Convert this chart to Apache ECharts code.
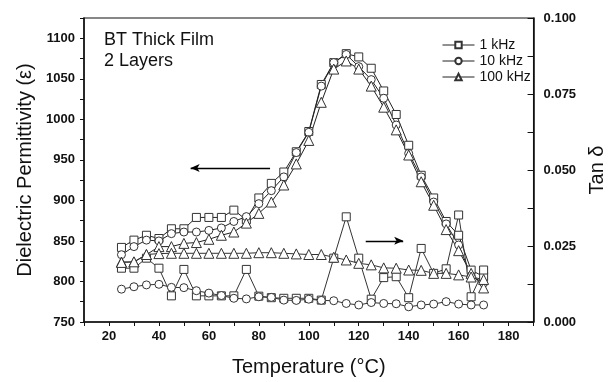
<!DOCTYPE html>
<html>
<head>
<meta charset="utf-8">
<script src="https://cdn.jsdelivr.net/npm/echarts@6/dist/echarts.min.js"></script>
<style>
html, body { margin: 0; padding: 0; background: #fff; }
#main { width: 615px; height: 382px; }
</style>
</head>
<body>
<div id="main"></div>
<script>
// temperature (°C)
var temps = [25, 30, 35, 40, 45, 50, 55, 60, 65, 70, 75, 80, 85, 90, 95,
             100, 105, 110, 115, 120, 125, 130, 135, 140, 145, 150, 155, 160, 165, 170];

// dielectric permittivity
var perm1k   = [842, 851, 857, 853, 865, 865, 879, 879, 879, 888, 876, 903, 921, 935, 960,
                985, 1043, 1070, 1081, 1077, 1063, 1035, 1006, 968, 931, 903, 874, 857, 814, 806];
var perm10k  = [833, 843, 851, 850, 859, 861, 861, 863, 866, 874, 880, 896, 912, 929, 959,
                984, 1041, 1070, 1080, 1065, 1049, 1026, 993, 958, 929, 898, 871, 845, 807, 798];
var perm100k = [824, 824, 833, 843, 843, 847, 848, 852, 857, 861, 872, 884, 898, 919, 945,
                974, 1021, 1062, 1072, 1062, 1041, 1015, 987, 956, 923, 894, 864, 838, 810, 792];

// tan delta
var tan1k   = [0.0177, 0.0177, 0.0210, 0.0177, 0.0086, 0.0173, 0.0086, 0.0086, 0.0086, 0.0086,
               0.0173, 0.0085, 0.0080, 0.0078, 0.0078, 0.0078, 0.0072, 0.0210, 0.0346, 0.0210,
               0.0075, 0.0146, 0.0149, 0.0080, 0.0242, 0.0160, 0.0175, 0.0352, 0.0083, 0.0171];
var tan10k  = [0.0108, 0.0116, 0.0122, 0.0124, 0.0114, 0.0113, 0.0103, 0.0095, 0.0087, 0.0078,
               0.0076, 0.0083, 0.0081, 0.0072, 0.0071, 0.0075, 0.0071, 0.0070, 0.0061, 0.0056,
               0.0064, 0.0061, 0.0060, 0.0050, 0.0056, 0.0059, 0.0067, 0.0059, 0.0056, 0.0056];
var tan100k = [0.0196, 0.0198, 0.0222, 0.0225, 0.0226, 0.0226, 0.0226, 0.0226, 0.0226, 0.0226,
               0.0226, 0.0228, 0.0228, 0.0226, 0.0224, 0.0222, 0.0222, 0.0213, 0.0204, 0.0193,
               0.0188, 0.0178, 0.0177, 0.0171, 0.0170, 0.0160, 0.0160, 0.0155, 0.0148, 0.0140];

var names = ['1 kHz', '10 kHz', '100 kHz'];

function pairs(ys) {
    return temps.map(function (t, i) { return [t, ys[i]]; });
}

var font = 'Liberation Sans, Arial, sans-serif';

function makeSeries(name, ys, symbol, size, yIdx, lineColor) {
    return {
        name: name,
        type: 'line',
        yAxisIndex: yIdx,
        data: pairs(ys),
        symbol: symbol,
        symbolSize: size,
        showAllSymbol: true,
        lineStyle: { color: lineColor, width: 1 },
        itemStyle: { color: '#fff', borderColor: '#333', borderWidth: 1 }
    };
}

var series = [
    makeSeries(names[0], perm1k, 'rect', 8, 0, '#222'),
    makeSeries(names[1], perm10k, 'circle', 8, 0, '#222'),
    makeSeries(names[2], perm100k, 'triangle', 10, 0, '#222'),
    makeSeries('tan 1 kHz', tan1k, 'rect', 8, 1, '#333'),
    makeSeries('tan 10 kHz', tan10k, 'circle', 8, 1, '#333'),
    makeSeries('tan 100 kHz', tan100k, 'triangle', 10, 1, '#333')
];

var arrowStyle = {
    silent: true,
    symbol: ['none', 'arrow'],
    symbolSize: [6, 9],
    label: { show: false },
    lineStyle: { color: '#000', width: 1.3, type: 'solid' }
};
series[0].markLine = Object.assign({ data: [[{ coord: [84.5, 940] }, { coord: [52.7, 940] }]] }, arrowStyle);
series[3].markLine = Object.assign({ data: [[{ coord: [122.8, 0.0267] }, { coord: [137.8, 0.0267] }]] }, arrowStyle);

var axisLine = { show: true, lineStyle: { color: '#111', width: 1.5 } };

var option = {
    animation: false,
    backgroundColor: '#fff',
    grid: {
        left: 84, right: 72, top: 18, bottom: 60,
        show: true, borderColor: '#111', borderWidth: 1.2, backgroundColor: 'transparent'
    },
    legend: {
        data: names,
        orient: 'vertical',
        left: 437,
        top: 33,
        itemWidth: 32,
        itemHeight: 8,
        itemGap: 2,
        lineStyle: { width: 1 },
        textStyle: { fontFamily: font, fontSize: 14, color: '#111', lineHeight: 14 }
    },
    xAxis: {
        type: 'value',
        min: 10, max: 190, interval: 10,
        name: 'Temperature (°C)',
        nameLocation: 'middle',
        nameGap: 35,
        nameTextStyle: { fontFamily: font, fontSize: 20, color: '#111' },
        axisLine: axisLine,
        axisTick: { length: 4, lineStyle: { color: '#111', width: 1 } },
        axisLabel: {
            margin: 8,
            fontFamily: font, fontSize: 13, fontWeight: 'bold', color: '#111',
            formatter: function (v) { return v % 20 === 0 ? v : ''; }
        },
        splitLine: { show: false }
    },
    yAxis: [{
        type: 'value',
        min: 750, max: 1125, interval: 25,
        name: 'Dielectric Permittivity (ε)',
        nameLocation: 'middle',
        nameRotate: 90,
        nameGap: 46,
        nameTextStyle: { fontFamily: font, fontSize: 20, color: '#111' },
        axisLine: axisLine,
        axisTick: { length: 4, lineStyle: { color: '#111', width: 1 } },
        axisLabel: {
            margin: 9,
            fontFamily: font, fontSize: 13, fontWeight: 'bold', color: '#111',
            formatter: function (v) { return v % 50 === 0 ? v : ''; }
        },
        splitLine: { show: false }
    }, {
        type: 'value',
        position: 'right',
        min: 0, max: 0.1, interval: 0.0125,
        name: 'Tan δ',
        nameLocation: 'middle',
        nameRotate: 90,
        nameGap: 38,
        nameTextStyle: { fontFamily: font, fontSize: 20, color: '#111' },
        axisLine: axisLine,
        axisTick: { inside: true, length: 6, lineStyle: { color: '#111', width: 1 } },
        axisLabel: {
            margin: 10,
            fontFamily: font, fontSize: 13, fontWeight: 'bold', color: '#111',
            formatter: function (v) { return Math.round(v * 1000) % 25 === 0 ? v.toFixed(3) : ''; }
        },
        splitLine: { show: false }
    }],
    graphic: [{
        type: 'text', left: 104, top: 31,
        style: { text: 'BT Thick Film', fontFamily: font, fontSize: 18, fill: '#111' }
    }, {
        type: 'text', left: 104, top: 52,
        style: { text: '2 Layers', fontFamily: font, fontSize: 18, fill: '#111' }
    }],
    series: series
};

var myChart = echarts.init(document.getElementById('main'));
myChart.setOption(option);
</script>
</body>
</html>
